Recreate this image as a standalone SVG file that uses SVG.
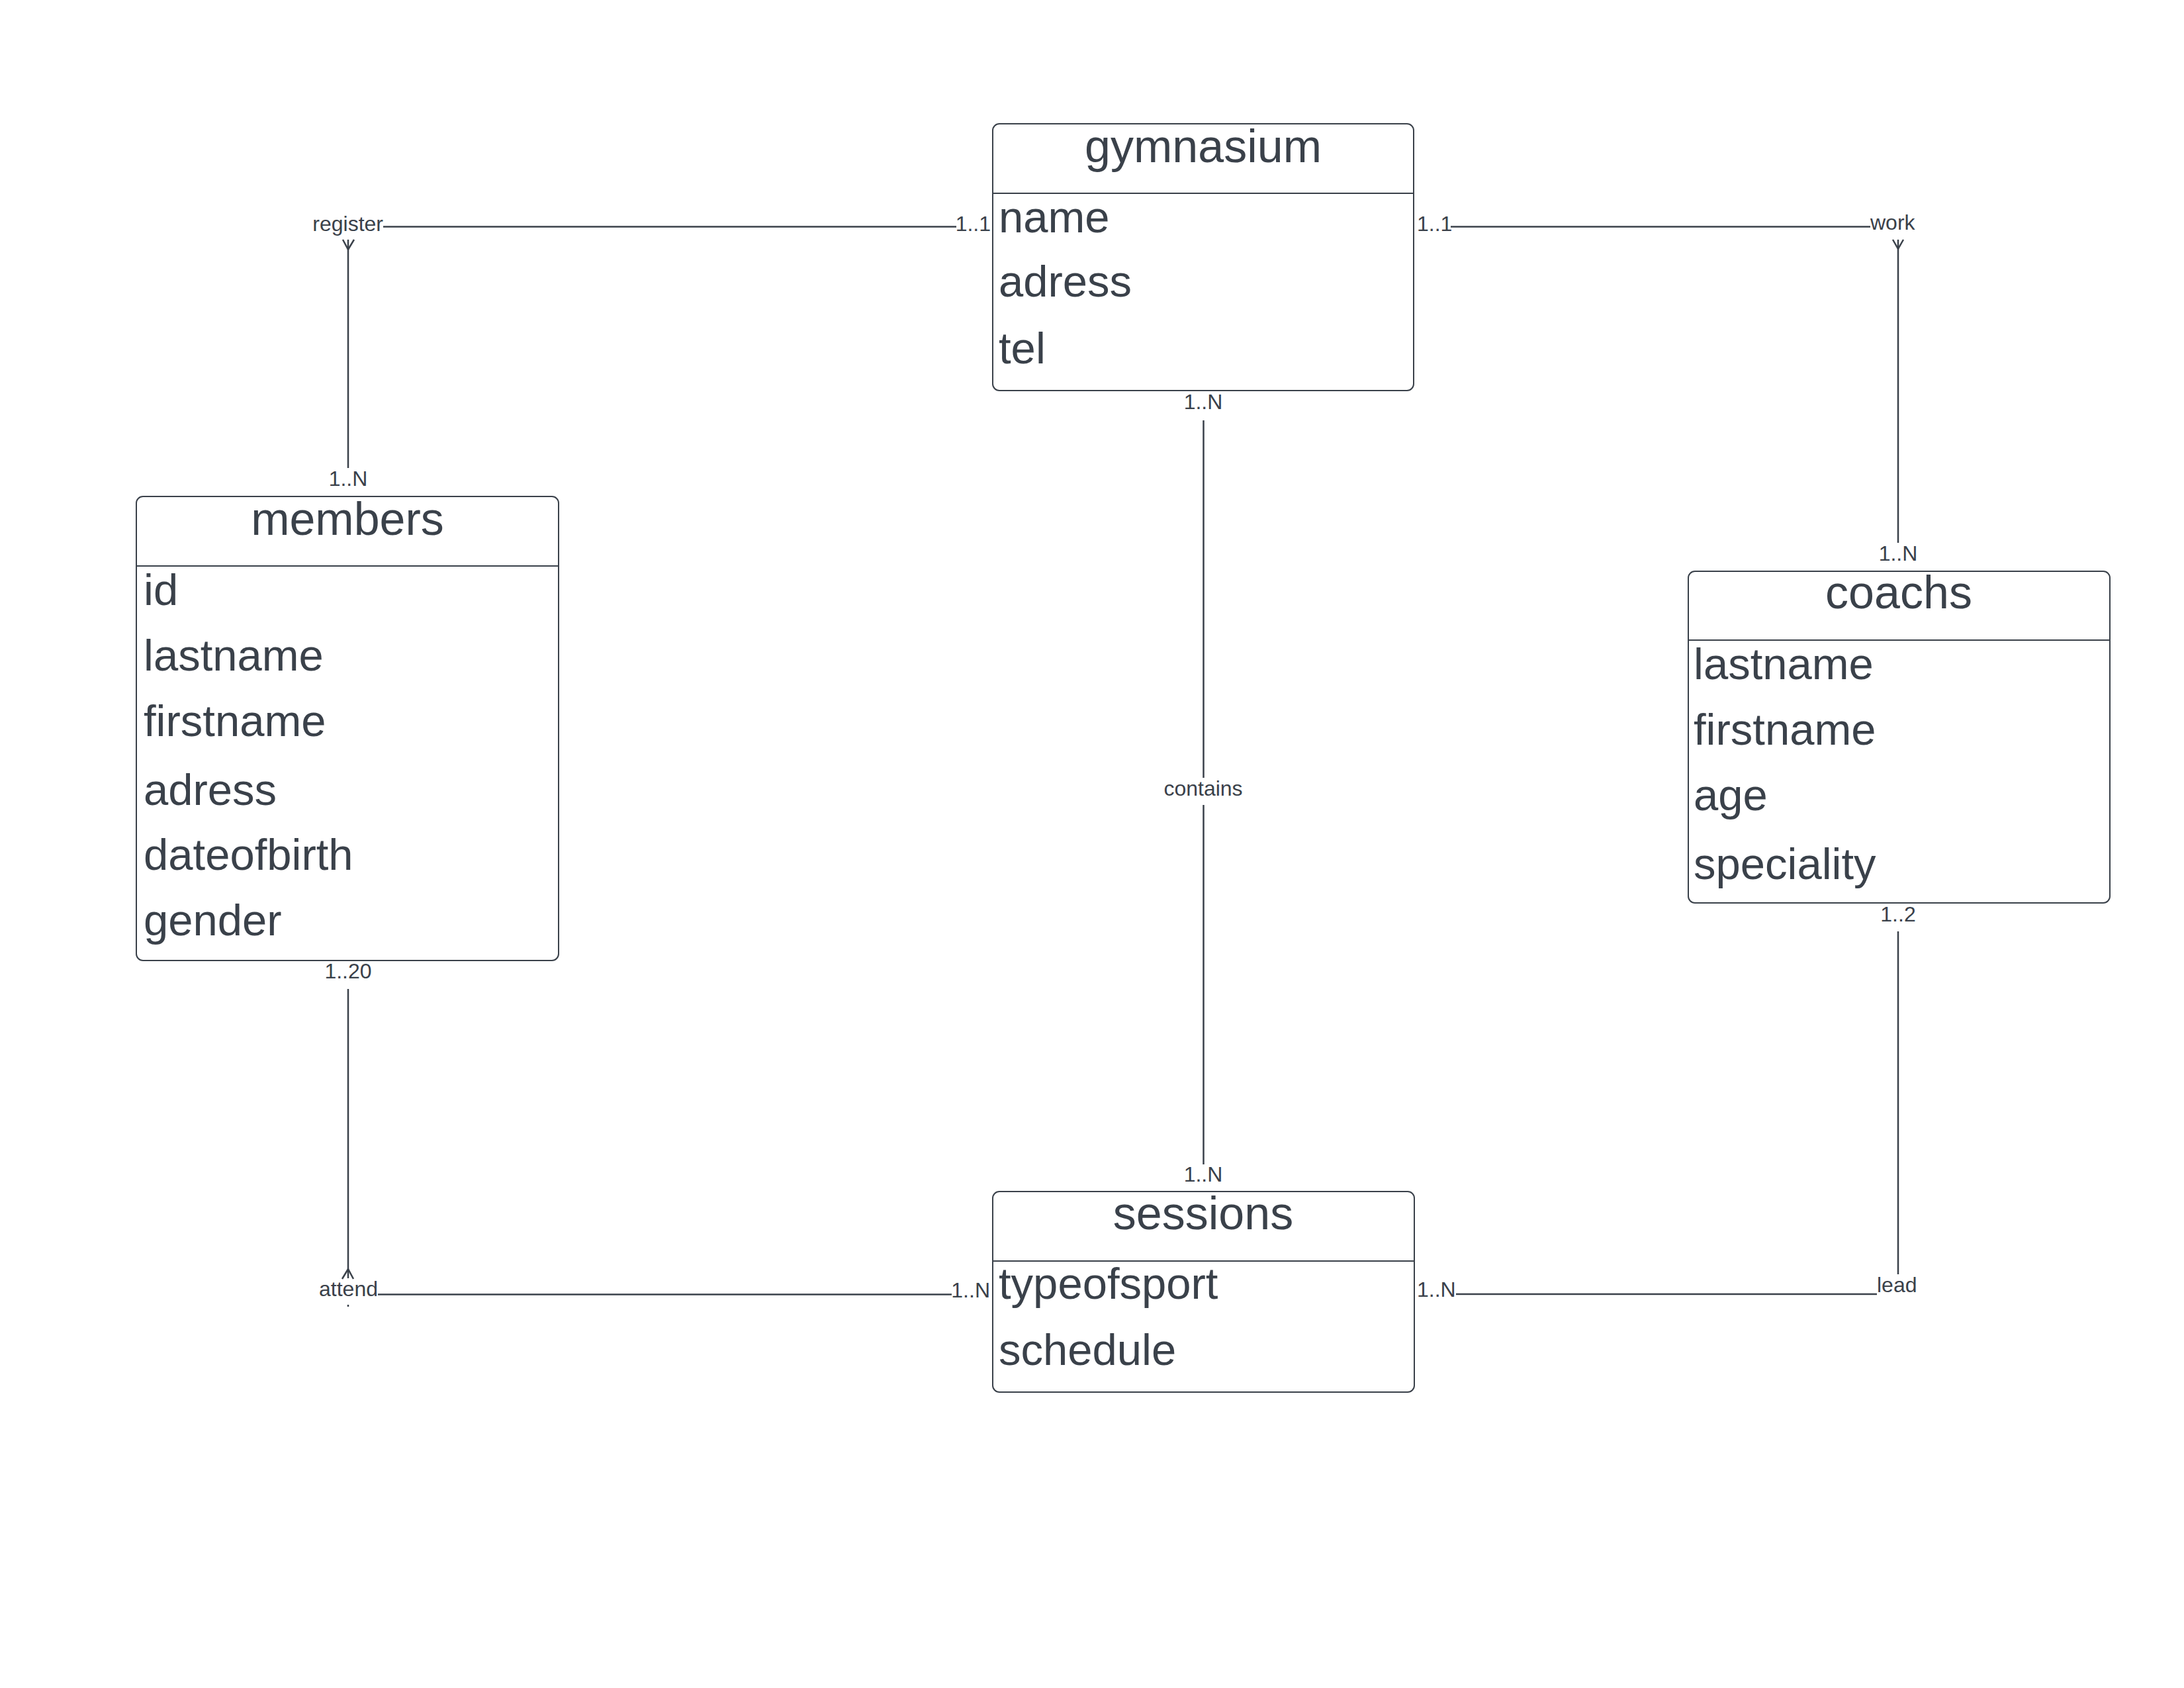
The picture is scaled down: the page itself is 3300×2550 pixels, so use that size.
<svg xmlns="http://www.w3.org/2000/svg" width="3300" height="2550" viewBox="0 0 3300 2550">
<style>
.box{fill:#ffffff;stroke:#3a414a;stroke-width:2}
.div{stroke:#3a414a;stroke-width:2}
.title{font-family:"Liberation Sans",Arial,sans-serif;font-size:70px;fill:#3a414a;text-anchor:middle}
.attr{font-family:"Liberation Sans",Arial,sans-serif;font-size:67px;fill:#3a414a}
.lbl{font-family:"Liberation Sans",Arial,sans-serif;font-size:32px;fill:#3a414a}
.c{text-anchor:middle}
.e{text-anchor:end}
.ln{fill:none;stroke:#3a414a;stroke-width:2.5}
</style>
<rect width="3300" height="2550" fill="#ffffff"/>
<g id="connectors">
  <!-- register -->
  <path class="ln" d="M579 342.5 H1445"/>
  <path class="ln" d="M526 362 V707"/>
  <path class="ln" d="M518 362 L526 377 L535 362"/>
  <text class="lbl e" x="579" y="349">register</text>
  <text class="lbl e" x="1497" y="349">1..1</text>
  <text class="lbl c" x="526" y="734">1..N</text>
  <!-- work -->
  <path class="ln" d="M2192 342.5 H2826"/>
  <path class="ln" d="M2868 362 V820"/>
  <path class="ln" d="M2860 362 L2868 376 L2876 362"/>
  <text class="lbl" x="2141" y="349">1..1</text>
  <text class="lbl" x="2826" y="347">work</text>
  <text class="lbl c" x="2868" y="847">1..N</text>
  <!-- contains -->
  <path class="ln" d="M1818.5 635 V1175"/>
  <path class="ln" d="M1818.5 1216 V1759"/>
  <text class="lbl c" x="1818" y="618">1..N</text>
  <text class="lbl c" x="1818" y="1202">contains</text>
  <text class="lbl c" x="1818" y="1785">1..N</text>
  <!-- attend -->
  <path class="ln" d="M526 1494 V1931"/>
  <path class="ln" d="M517 1932 L526 1917 L534 1932"/>
  <path class="ln" d="M526 1971 V1974" stroke-width="1.5"/>
  <path class="ln" d="M571 1955.5 H1438"/>
  <text class="lbl c" x="526" y="1478">1..20</text>
  <text class="lbl e" x="571" y="1958">attend</text>
  <text class="lbl e" x="1496" y="1960">1..N</text>
  <!-- lead -->
  <path class="ln" d="M2868 1407 V1925"/>
  <path class="ln" d="M2200 1955 H2836"/>
  <text class="lbl c" x="2868" y="1392">1..2</text>
  <text class="lbl" x="2836" y="1952">lead</text>
  <text class="lbl" x="2141" y="1959">1..N</text>
</g>
<g id="gymnasium">
  <rect class="box" x="1500" y="187" width="636" height="403" rx="10"/>
  <line class="div" x1="1500" y1="292" x2="2136" y2="292"/>
  <text class="title" x="1818" y="245">gymnasium</text>
  <text class="attr" x="1509" y="351">name</text>
  <text class="attr" x="1509" y="448">adress</text>
  <text class="attr" x="1509" y="549">tel</text>
</g>
<g id="members">
  <rect class="box" x="206" y="750" width="638" height="701" rx="10"/>
  <line class="div" x1="206" y1="855" x2="844" y2="855"/>
  <text class="title" x="525" y="808">members</text>
  <text class="attr" x="217" y="914">id</text>
  <text class="attr" x="217" y="1013">lastname</text>
  <text class="attr" x="217" y="1112">firstname</text>
  <text class="attr" x="217" y="1216">adress</text>
  <text class="attr" x="217" y="1314">dateofbirth</text>
  <text class="attr" x="217" y="1413">gender</text>
</g>
<g id="coachs">
  <rect class="box" x="2551" y="863" width="637" height="501" rx="10"/>
  <line class="div" x1="2551" y1="967" x2="3188" y2="967"/>
  <text class="title" x="2869" y="919">coachs</text>
  <text class="attr" x="2559" y="1026">lastname</text>
  <text class="attr" x="2559" y="1125">firstname</text>
  <text class="attr" x="2559" y="1224">age</text>
  <text class="attr" x="2559" y="1328">speciality</text>
</g>
<g id="sessions">
  <rect class="box" x="1500" y="1800" width="637" height="303" rx="10"/>
  <line class="div" x1="1500" y1="1905" x2="2137" y2="1905"/>
  <text class="title" x="1818" y="1857">sessions</text>
  <text class="attr" x="1509" y="1962">typeofsport</text>
  <text class="attr" x="1509" y="2062">schedule</text>
</g>
</svg>
